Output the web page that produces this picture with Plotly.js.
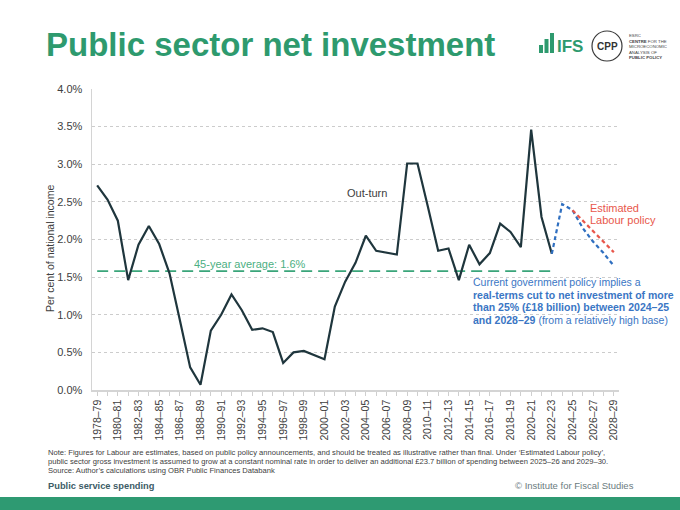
<!DOCTYPE html>
<html><head><meta charset="utf-8">
<script src="https://cdn.plot.ly/plotly-3.0.1.min.js"></script>
<style>html,body{margin:0;padding:0;background:#fff}#chart{width:680px;height:510px}</style>
</head><body><div id="chart"></div>
<script>
const years = ["1978–79","1979–80","1980–81","1981–82","1982–83","1983–84","1984–85","1985–86","1986–87","1987–88",
"1988–89","1989–90","1990–91","1991–92","1992–93","1993–94","1994–95","1995–96","1996–97","1997–98",
"1998–99","1999–00","2000–01","2001–02","2002–03","2003–04","2004–05","2005–06","2006–07","2007–08",
"2008–09","2009–10","2010–11","2011–12","2012–13","2013–14","2014–15","2015–16","2016–17","2017–18",
"2018–19","2019–20","2020–21","2021–22","2022–23","2023–24","2024–25","2025–26","2026–27","2027–28","2028–29"];
const outturn = [2.72,2.53,2.25,1.46,1.93,2.18,1.94,1.55,0.93,0.30,
0.07,0.79,1.00,1.27,1.06,0.80,0.82,0.77,0.36,0.50,
0.52,0.47,0.41,1.11,1.44,1.69,2.05,1.85,1.82,1.80,
3.01,3.01,2.44,1.85,1.88,1.46,1.93,1.67,1.82,2.21,
2.10,1.90,3.46,2.30,1.81];
const currentYears = ["2022–23","2023–24","2024–25","2025–26","2026–27","2027–28","2028–29"];
const currentPolicy = [1.81,2.47,2.39,2.15,1.97,1.82,1.65];
const labourYears = ["2024–25","2025–26","2026–27","2027–28","2028–29"];
const labourPolicy = [2.39,2.25,2.11,1.97,1.83];
const averageYears = ["1978–79","2022–23"];
const averageValue = [1.58,1.58];
const tickLabels = years.map((y,i)=> i%2===0 ? y : "");
const yTicks = [0,0.5,1,1.5,2,2.5,3,3.5,4];

const L=92, R=619, T=89, B=390;
const px = x => (x-L)/(R-L);
const py = y => (B-y)/(B-T);
const F = '"Liberation Sans", Arial, sans-serif';
const green = '#2e9a6e';

const traces = [
 {x: averageYears, y: averageValue, type:'scatter', mode:'lines', line:{color:'#3aa57a', width:1.6, dash:'11px,6px'}, hoverinfo:'skip'},
 {x: years.slice(0,outturn.length), y: outturn, type:'scatter', mode:'lines', line:{color:'#1f363d', width:2.2}},
 {x: currentYears, y: currentPolicy, type:'scatter', mode:'lines', line:{color:'#2f6fc0', width:2.2, dash:'4px,3px'}},
 {x: labourYears, y: labourPolicy, type:'scatter', mode:'lines', line:{color:'#e8574b', width:2.2, dash:'4px,3px'}}
];

const ann = [];
function txt(text, x, y, opts){ ann.push(Object.assign({text, x:px(x), y:py(y), xref:'paper', yref:'paper', showarrow:false, xanchor:'left', yanchor:'middle', font:{family:F, size:10.5, color:'#404040'}}, opts||{})); }
txt('Per cent of national income', 50, 249, {xanchor:'center', textangle:-90, font:{family:F,size:10.5,color:'#404040'}});
txt('Out-turn', 367, 193, {xanchor:'center', font:{family:F,size:11,color:'#404040'}});
txt('45-year average: 1.6%', 250, 264, {xanchor:'center', font:{family:F,size:11,color:'#4caf82'}});
const redF = {family:F,size:11,color:'#e8574b'};
txt('Estimated', 588, 208, {font:redF});
txt('Labour policy', 588, 220, {font:redF});
const blueF = {family:F,size:10.5,color:'#3a76c4'};
txt('Current government policy implies a', 471, 282, {font:blueF});
txt('<b>real-terms cut to net investment of more</b>', 471, 294.5, {font:blueF});
txt('<b>than 25% (£18 billion) between 2024–25</b>', 471, 307, {font:blueF});
txt('<b>and 2028–29</b> (from a relatively high base)', 471, 319.5, {font:blueF});
const noteF = {family:F,size:7.6,color:'#404040'};
txt('Note: Figures for Labour are estimates, based on public policy announcements, and should be treated as illustrative rather than final. Under ‘Estimated Labour policy’,', 46, 452.7, {font:noteF});
txt('public sector gross investment is assumed to grow at a constant nominal rate in order to deliver an additional £23.7 billion of spending between 2025–26 and 2029–30.', 46, 461.8, {font:noteF});
txt('Source: Author’s calculations using OBR Public Finances Databank', 46, 470.9, {font:noteF});
txt('<b>Public service spending</b>', 46, 486, {font:{family:F,size:9.3,color:'#3d5c66'}});
txt('© Institute for Fiscal Studies', 636, 486, {xanchor:'right', font:{family:F,size:9.5,color:'#6b7b80'}});
txt('<b>IFS</b>', 555, 46, {font:{family:'"Liberation Sans Narrow", Arial, sans-serif',size:17,color:green}});
txt('<b>CPP</b>', 607, 46, {xanchor:'center', font:{family:F,size:10,color:'#333'}});
txt('ESRC<br><b>CENTRE</b> FOR THE<br>MICROECONOMIC<br>ANALYSIS OF<br><b>PUBLIC POLICY</b>', 627, 46, {align:'left', font:{family:F,size:4.3,color:'#444'}});

const shapes = [
 {type:'rect', xref:'paper', yref:'paper', x0:px(0), x1:px(680), y0:py(497), y1:py(511), fillcolor:'#2e9a72', line:{width:0}, layer:'above'},
 {type:'rect', xref:'paper', yref:'paper', x0:px(539), x1:px(543), y0:py(53), y1:py(45), fillcolor:green, line:{width:0}},
 {type:'rect', xref:'paper', yref:'paper', x0:px(544.5), x1:px(548.5), y0:py(53), y1:py(39), fillcolor:green, line:{width:0}},
 {type:'rect', xref:'paper', yref:'paper', x0:px(550), x1:px(554), y0:py(53), y1:py(33), fillcolor:green, line:{width:0}},
 {type:'circle', xref:'paper', yref:'paper', x0:px(592), x1:px(622), y0:py(31), y1:py(61), line:{color:'#3a3a3a', width:1.2}}
];

const layout = {
 width:680, height:510, paper_bgcolor:'#fff', plot_bgcolor:'#fff',
 margin:{l:L, r:680-R, t:T, b:510-B},
 showlegend:false,
 font:{family:F, color:'#404040'},
 title:{text:'<b>Public sector net investment</b>', x:46/680, xanchor:'left', y:1-44/510, yanchor:'middle', xref:'container', yref:'container', font:{family:F, size:33, color:green}},
 xaxis:{type:'category', categoryorder:'array', categoryarray:years, range:[-0.5, years.length-0.5],
   tickmode:'array', tickvals:years, ticktext:tickLabels, tickangle:-90, ticks:'outside', ticklen:4, tickcolor:'#cfcfcf',
   tickfont:{family:F, size:10.5, color:'#404040'}, showline:true, linecolor:'#d4d4d4', linewidth:1.5, showgrid:false, zeroline:false, fixedrange:true},
 yaxis:{range:[0,4], tickmode:'array', tickvals:yTicks, ticktext:yTicks.map(v=>v.toFixed(1)+'%'),
   tickfont:{family:F, size:11, color:'#404040'}, showline:true, linecolor:'#d4d4d4', linewidth:1.5,
   showgrid:true, gridcolor:'#cccccc', griddash:'dot', gridwidth:1, zeroline:false, ticks:'', ticklabelstandoff:6,
   fixedrange:true},
 annotations: ann, shapes: shapes
};
Plotly.newPlot('chart', traces, layout, {displayModeBar:false, staticPlot:true});
</script></body></html>
